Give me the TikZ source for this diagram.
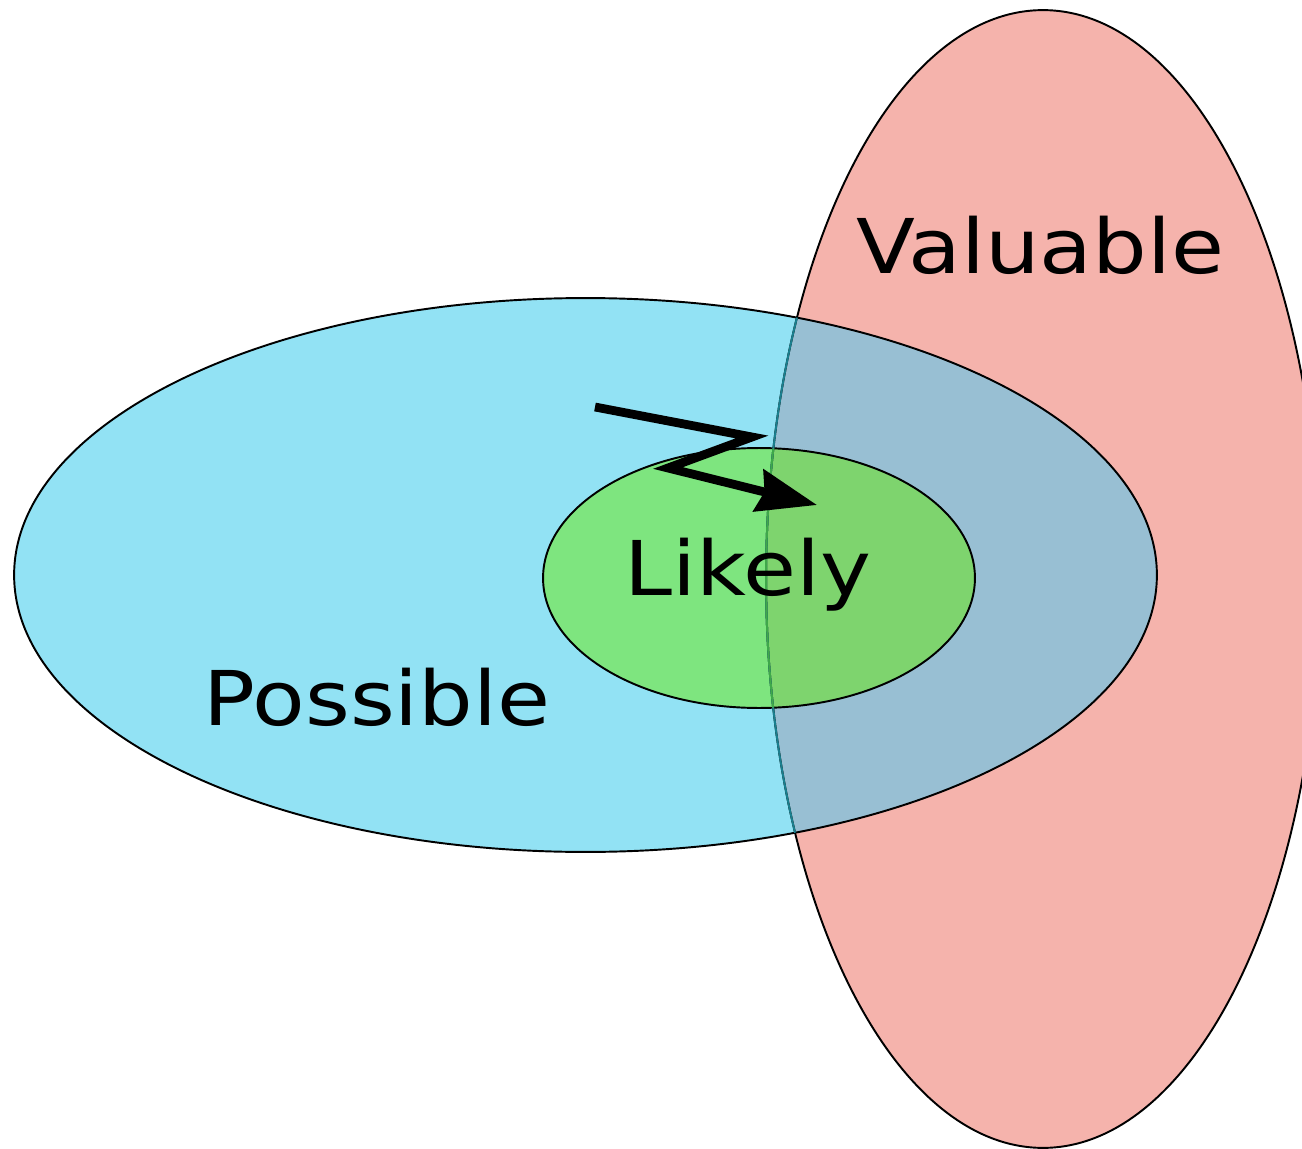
\documentclass[tikz,border=0pt]{standalone}
\usepackage{fontspec}
\setmainfont{DejaVu Sans}
\usetikzlibrary{arrows.meta}
\definecolor{cblue}{HTML}{92E2F4}
\definecolor{cred}{HTML}{F5B3AC}
\definecolor{cmix}{HTML}{98BFD3}
\definecolor{cgreen}{HTML}{7EE57F}
\definecolor{cgmix}{HTML}{7ED46E}
\definecolor{cteal}{HTML}{1A7F8E}
\definecolor{cdgreen}{HTML}{3FA84A}
\tikzset{
  outl/.style={line width=1.1pt},
  lbl/.style={font=\fontsize{43}{50}\selectfont, xscale=1.14, transform shape, inner sep=0pt},
}
\begin{document}
\begin{tikzpicture}[x=0.02cm,y=-0.02cm]
\useasboundingbox (0,0) rectangle (1302,1149);
\def\blueE{(585.5,575) ellipse [x radius=11.43cm, y radius=5.54cm]}
\def\redE{(1043,579) ellipse [x radius=5.54cm, y radius=11.38cm]}
\def\greenE{(759,578) ellipse [x radius=4.32cm, y radius=2.6cm]}
% fills
\fill[cblue] \blueE;
\fill[cred] \redE;
\begin{scope}
  \clip \blueE;
  \fill[cmix] \redE;
\end{scope}
\fill[cgreen] \greenE;
\begin{scope}
  \clip \greenE;
  \fill[cgmix] \redE;
\end{scope}
% outlines
\draw[outl] \blueE;
\draw[outl] \greenE;
\draw[outl] \redE;
\begin{scope}
  \clip \blueE;
  \draw[outl, cteal] \redE;
\end{scope}
\begin{scope}
  \clip \greenE;
  \draw[outl, cdgreen] \redE;
\end{scope}
% labels
\node[lbl, anchor=base] (valuable) at (1040,273) {Valuable};
\node[lbl, anchor=base] (likely) at (748,595) {Likely};
\node[lbl, anchor=base] (possible) at (377,725) {Possible};
% arrow
\coordinate (a0) at (595,407);
\coordinate (a1) at (752,437);
\coordinate (a2) at (668,468);
\coordinate (a3) at (817,505);
\draw[line width=5pt, miter limit=10, -{Stealth[length=1.2cm, width=0.85cm, inset=0.12cm]}] (a0) -- (a1) -- (a2) -- (a3);
\end{tikzpicture}
\end{document}
